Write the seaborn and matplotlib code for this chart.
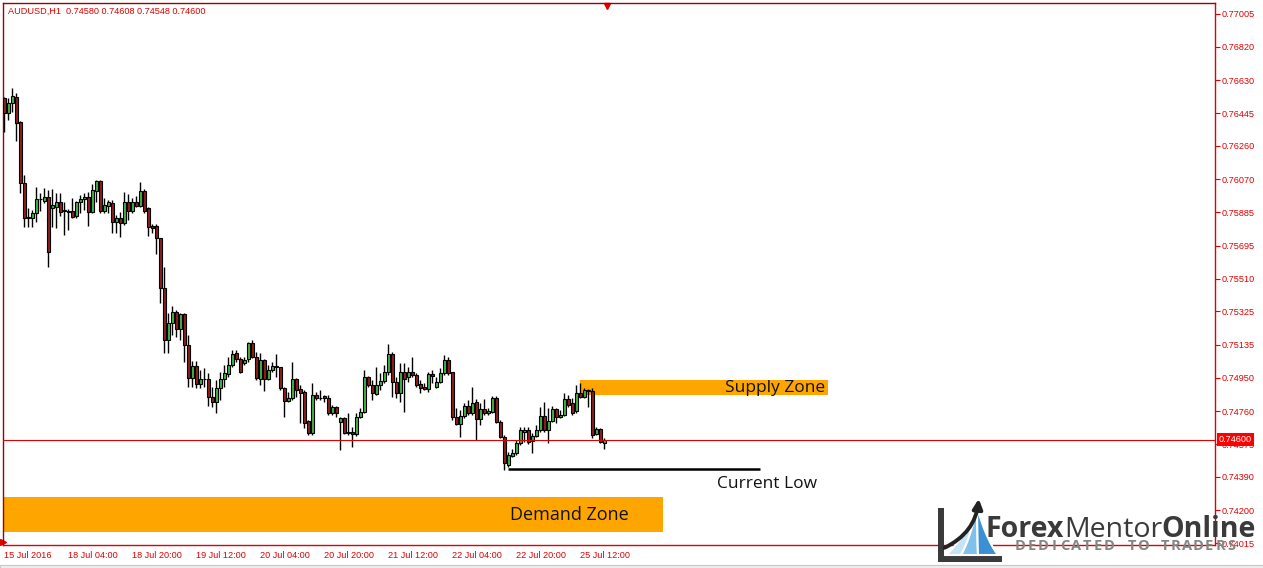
import numpy as np
import pandas as pd
import seaborn as sns
import matplotlib
matplotlib.use("Agg")
from matplotlib import pyplot as plt
from matplotlib import patches, transforms

# candle data, AUDUSD H1 -->
open_ = [0.76530, 0.76445, 0.76502, 0.76536, 0.76394, 0.76050, 0.75852, 0.75852, 0.75880, 0.75960,
         0.75948, 0.75971, 0.75909, 0.75914, 0.75943, 0.75892, 0.75892, 0.75892, 0.75863, 0.75943,
         0.75960, 0.75971, 0.75886, 0.76004, 0.76061, 0.75892, 0.75920, 0.75937, 0.75830, 0.75852,
         0.75824, 0.75943, 0.75892, 0.75943, 0.75920, 0.76004, 0.75909, 0.75807, 0.75807, 0.75739,
         0.75456, 0.75163, 0.75259, 0.75321, 0.75225, 0.75310, 0.75134, 0.74948, 0.75016, 0.74914,
         0.74942, 0.74942, 0.74841, 0.74813, 0.74891, 0.74942, 0.74971, 0.75021, 0.75089, 0.75055,
         0.75033, 0.75055, 0.75146, 0.75067, 0.74942, 0.75050, 0.74942, 0.74993, 0.75010, 0.75010,
         0.74891, 0.74818, 0.74835, 0.74942, 0.74886, 0.74869, 0.74705, 0.74638, 0.74852, 0.74835,
         0.74846, 0.74835, 0.74750, 0.74784, 0.74700, 0.74722, 0.74643, 0.74643, 0.74632, 0.74728,
         0.74756, 0.74954, 0.74908, 0.74858, 0.74908, 0.74931, 0.74982, 0.75084, 0.74925, 0.74863,
         0.74982, 0.74954, 0.74982, 0.74965, 0.74914, 0.74897, 0.74886, 0.74971, 0.74897, 0.74925,
         0.74976, 0.75050, 0.74982, 0.74728, 0.74688, 0.74733, 0.74790, 0.74750, 0.74813, 0.74716,
         0.74773, 0.74750, 0.74756, 0.74835, 0.74700, 0.74615, 0.74456, 0.74507, 0.74524, 0.74581,
         0.74643, 0.74654, 0.74592, 0.74620, 0.74654, 0.74733, 0.74654, 0.74705, 0.74773, 0.74728,
         0.74739, 0.74830, 0.74807, 0.74762, 0.74863, 0.74841, 0.74874, 0.74874, 0.74632, 0.74660,
         0.74580]
high = [0.76536, 0.76530, 0.76586, 0.76558, 0.76400, 0.76095, 0.75909, 0.75897, 0.76027, 0.75993,
        0.76021, 0.76010, 0.76016, 0.75993, 0.75993, 0.75943, 0.75903, 0.75965, 0.75948, 0.75982,
        0.75993, 0.75999, 0.76044, 0.76067, 0.76067, 0.75965, 0.75954, 0.75954, 0.75869, 0.75886,
        0.75999, 0.75988, 0.75965, 0.75976, 0.76055, 0.76016, 0.75912, 0.75818, 0.75818, 0.75742,
        0.75575, 0.75315, 0.75355, 0.75332, 0.75315, 0.75315, 0.75191, 0.75044, 0.75044, 0.74993,
        0.75004, 0.74976, 0.74897, 0.74937, 0.74982, 0.75021, 0.75067, 0.75106, 0.75106, 0.75067,
        0.75067, 0.75151, 0.75163, 0.75095, 0.75089, 0.75055, 0.75021, 0.75039, 0.75084, 0.75013,
        0.74897, 0.74869, 0.75039, 0.74948, 0.74908, 0.74880, 0.74711, 0.74920, 0.74869, 0.74880,
        0.74852, 0.74852, 0.74796, 0.74790, 0.74728, 0.74728, 0.74750, 0.74671, 0.74750, 0.74779,
        0.74993, 0.74959, 0.74937, 0.75010, 0.74976, 0.75021, 0.75140, 0.75095, 0.74954, 0.75033,
        0.75033, 0.75010, 0.75067, 0.74976, 0.74937, 0.74920, 0.74982, 0.74993, 0.74954, 0.75004,
        0.75078, 0.75067, 0.74985, 0.74779, 0.74767, 0.74807, 0.74824, 0.74897, 0.74830, 0.74807,
        0.74830, 0.74779, 0.74846, 0.74846, 0.74711, 0.74626, 0.74530, 0.74547, 0.74598, 0.74671,
        0.74671, 0.74671, 0.74638, 0.74683, 0.74784, 0.74813, 0.74779, 0.74790, 0.74779, 0.74767,
        0.74863, 0.74852, 0.74835, 0.74908, 0.74920, 0.74891, 0.74886, 0.74891, 0.74671, 0.74666,
        0.74608]
low = [0.76338, 0.76406, 0.76451, 0.76287, 0.75993, 0.75801, 0.75801, 0.75801, 0.75830, 0.75892,
       0.75937, 0.75575, 0.75801, 0.75796, 0.75863, 0.75756, 0.75784, 0.75855, 0.75855, 0.75880,
       0.75897, 0.75807, 0.75880, 0.75943, 0.75880, 0.75880, 0.75880, 0.75767, 0.75767, 0.75745,
       0.75813, 0.75841, 0.75880, 0.75914, 0.75914, 0.75880, 0.75750, 0.75767, 0.75648, 0.75372,
       0.75089, 0.75089, 0.75191, 0.75180, 0.75163, 0.75039, 0.74897, 0.74897, 0.74891, 0.74891,
       0.74897, 0.74790, 0.74784, 0.74750, 0.74824, 0.74897, 0.74954, 0.75010, 0.75039, 0.74976,
       0.75021, 0.75039, 0.75061, 0.74937, 0.74908, 0.74874, 0.74937, 0.74982, 0.74954, 0.74880,
       0.74728, 0.74813, 0.74824, 0.74841, 0.74694, 0.74666, 0.74626, 0.74626, 0.74824, 0.74824,
       0.74813, 0.74739, 0.74739, 0.74728, 0.74541, 0.74632, 0.74626, 0.74558, 0.74620, 0.74722,
       0.74750, 0.74897, 0.74824, 0.74852, 0.74880, 0.74920, 0.74965, 0.74841, 0.74835, 0.74813,
       0.74756, 0.74925, 0.74954, 0.74897, 0.74863, 0.74880, 0.74869, 0.74920, 0.74891, 0.74920,
       0.74965, 0.74965, 0.74711, 0.74683, 0.74615, 0.74722, 0.74739, 0.74739, 0.74598, 0.74683,
       0.74739, 0.74739, 0.74750, 0.74694, 0.74609, 0.74428, 0.74445, 0.74502, 0.74513, 0.74570,
       0.74587, 0.74575, 0.74524, 0.74615, 0.74643, 0.74643, 0.74581, 0.74700, 0.74694, 0.74722,
       0.74733, 0.74784, 0.74739, 0.74750, 0.74835, 0.74835, 0.74784, 0.74609, 0.74626, 0.74581,
       0.74548]
close = [0.76445, 0.76502, 0.76541, 0.76389, 0.76050, 0.75852, 0.75858, 0.75880, 0.75960, 0.75957,
         0.75971, 0.75660, 0.75926, 0.75943, 0.75886, 0.75895, 0.75889, 0.75858, 0.75943, 0.75960,
         0.75971, 0.75886, 0.76010, 0.76061, 0.75892, 0.75926, 0.75943, 0.75830, 0.75852, 0.75824,
         0.75943, 0.75892, 0.75943, 0.75920, 0.76004, 0.75892, 0.75801, 0.75796, 0.75739, 0.75456,
         0.75163, 0.75259, 0.75321, 0.75225, 0.75310, 0.75134, 0.74948, 0.75016, 0.74914, 0.74942,
         0.74940, 0.74841, 0.74813, 0.74891, 0.74942, 0.74976, 0.75021, 0.75084, 0.75055, 0.74982,
         0.75050, 0.75146, 0.75067, 0.74948, 0.75050, 0.74942, 0.74993, 0.75016, 0.75016, 0.74891,
         0.74818, 0.74835, 0.74942, 0.74880, 0.74863, 0.74694, 0.74638, 0.74852, 0.74835, 0.74838,
         0.74835, 0.74750, 0.74784, 0.74750, 0.74722, 0.74638, 0.74638, 0.74632, 0.74728, 0.74756,
         0.74954, 0.74908, 0.74863, 0.74908, 0.74931, 0.74982, 0.75084, 0.74925, 0.74863, 0.74982,
         0.74942, 0.74982, 0.74965, 0.74908, 0.74891, 0.74886, 0.74971, 0.74959, 0.74925, 0.74976,
         0.75050, 0.74976, 0.74728, 0.74688, 0.74733, 0.74790, 0.74750, 0.74807, 0.74716, 0.74773,
         0.74750, 0.74762, 0.74835, 0.74700, 0.74615, 0.74468, 0.74513, 0.74524, 0.74581, 0.74654,
         0.74654, 0.74587, 0.74620, 0.74654, 0.74733, 0.74654, 0.74705, 0.74773, 0.74728, 0.74739,
         0.74830, 0.74796, 0.74750, 0.74863, 0.74841, 0.74880, 0.74880, 0.74626, 0.74660, 0.74587,
         0.74600]

price_ticks = [0.77005, 0.76820, 0.76630, 0.76445, 0.76260, 0.76070, 0.75885, 0.75695, 0.75510,
               0.75325, 0.75135, 0.74950, 0.74760, 0.74575, 0.74390, 0.74200, 0.74015]
time_labels = ["15 Jul 2016", "18 Jul 04:00", "18 Jul 20:00", "19 Jul 12:00", "20 Jul 04:00",
               "20 Jul 20:00", "21 Jul 12:00", "22 Jul 04:00", "22 Jul 20:00", "25 Jul 12:00"]
time_label_bars = [0, 16, 32, 48, 64, 80, 96, 112, 128, 144]

# drawn objects (price levels, bar ranges) -->
supply_zone = [0.74852, 0.74937]
supply_bars = [144, 206]
demand_zone = [0.74078, 0.74276]
demand_bars = [-1, 164.7]
current_low = 0.74434
current_low_bars = [126, 189]
last_price = 0.74600

df = pd.DataFrame({"open": open_, "high": high, "low": low, "close": close})
df["bar"] = np.arange(len(df))
df["up"] = df["close"] > df["open"]

sns.set_style("white")
plt.rcParams["font.family"] = ["Liberation Sans", "DejaVu Sans"]

RED = "#e00000"
W, H = 1263, 568
fig = plt.figure(figsize=(W / 100, H / 100), dpi=100)
ax = fig.add_axes([3 / W, 23 / H, 1212 / W, 542 / H])
ax.set_xlim(-0.325, 302.675)
ax.set_ylim(0.74005, 0.77067)

# zones -->
ax.fill_between(supply_bars, supply_zone[0], supply_zone[1], color="#FFA500", lw=0, zorder=1)
ax.fill_between(demand_bars, demand_zone[0], demand_zone[1], color="#FFA500", lw=0, zorder=1)
ax.hlines(current_low, current_low_bars[0], current_low_bars[1], color="black", lw=1.8, zorder=2)

# candles -->
ax.vlines(df["bar"], df["low"], df["high"], color="black", lw=1, zorder=3)
body_lo = df[["open", "close"]].min(axis=1)
body_h = (df["close"] - df["open"]).abs().clip(lower=1e-7)
colors = np.where(df["up"], "#43b14b", "#8f1e1e")
ax.bar(df["bar"], body_h, bottom=body_lo, width=0.72, color=colors,
       edgecolor="black", lw=0.8, zorder=4)

ax.axhline(last_price, color=RED, lw=0.8, zorder=5)

# labels on chart -->
ax.text(180.2, np.mean(supply_zone), "Supply Zone", fontsize=12.5, family="Open Sans",
        va="center", ha="left", color="#111111", zorder=6)
ax.text(178.2, current_low - 0.00085, "Current Low", fontsize=12.5, family="Open Sans",
        va="center", ha="left", color="#111111", zorder=6)
ax.text(141.3, np.mean(demand_zone), "Demand Zone", fontsize=13, family="Open Sans",
        va="center", ha="center", color="#111111", zorder=6)
ax.text(0.004, 0.993, "AUDUSD,H1  %.5f %.5f %.5f %.5f" % (open_[-1], high[-1], low[-1], close[-1]),
        transform=ax.transAxes, va="top", ha="left", fontsize=6.6, color=RED)

# axes -->
ax.yaxis.tick_right()
ax.set_yticks(price_ticks, labels=["%.5f" % p for p in price_ticks])
ax.set_xticks(time_label_bars, labels=time_labels)
for t in ax.get_xticklabels():
    t.set_horizontalalignment("left")
ax.tick_params(axis="y", direction="out", length=3.5, width=0.8, color=RED,
               labelcolor=RED, labelsize=6.6, pad=1.5)
ax.tick_params(axis="x", direction="out", length=3.5, width=0.8, color=RED,
               labelcolor=RED, labelsize=6.6, pad=1)
for side in ["left", "top"]:
    ax.spines[side].set_color("#a00000")
    ax.spines[side].set_linewidth(1)
for side in ["right", "bottom"]:
    ax.spines[side].set_color(RED)
    ax.spines[side].set_linewidth(1)

# price box on the axis -->
ytrans = transforms.blended_transform_factory(ax.transAxes, ax.transData)
ax.text(1 + 4 / 1212, last_price, "%.5f" % last_price, transform=ytrans, ha="left", va="center",
        fontsize=6.6, color="white", zorder=10, clip_on=False,
        bbox=dict(boxstyle="square,pad=0.25", fc="#ff0000", ec="none"))

# shift markers -->
xtrans = transforms.blended_transform_factory(ax.transData, ax.transAxes)
ax.plot([len(df) - 0.3], [0.995], marker="v", ms=5, color=RED, transform=xtrans, clip_on=False)
ax.plot([0], [0.006], marker=">", ms=4, color=RED, transform=ax.transAxes, clip_on=False)

# window frame -->
fig.patches.append(patches.Rectangle((0, 0), 1, 3 / H, transform=fig.transFigure,
                                     fc="#f0f0f0", ec="#c8c8c8", lw=0.8))

# logo -->
lax = fig.add_axes([930 / W, 0, 333 / W, 78 / H])
lax.set_xlim(930, 1263)
lax.set_ylim(568, 490)
lax.axis("off")
lax.patch.set_alpha(0)
grey = "#3a3a3a"
lax.add_patch(patches.Rectangle((938, 508), 6, 54, color=grey, lw=0))
lax.add_patch(patches.Rectangle((938, 556), 64, 6, color=grey, lw=0))
t = np.linspace(0, 1, 40)
top = np.array([977, 507])
bottoms = [946, 961, 978, 998]
blues = ["#c4e4f7", "#7fc1eb", "#3a90d2"]
for k in range(3):
    pts = []
    for xb, rev in [(bottoms[k], False), (bottoms[k + 1], True)]:
        p0 = np.array([xb, 555])
        p1 = np.array([xb + (top[0] - xb) * 0.55, 540])
        curve = ((1 - t) ** 2)[:, None] * p0 + (2 * (1 - t) * t)[:, None] * p1 + (t ** 2)[:, None] * top
        pts.append(curve[::-1] if rev else curve)
    poly = np.vstack(pts)
    lax.add_patch(patches.Polygon(poly, closed=True, fc=blues[k], ec="white", lw=1.5))
lax.add_patch(patches.FancyArrowPatch((942, 549), (979, 496), connectionstyle="arc3,rad=0.3",
                                      arrowstyle="-|>", mutation_scale=14, lw=2.8, color="#222222"))

# word chain: each word starts where the last one ends
fig.canvas.draw()
renderer = fig.canvas.get_renderer()
x0 = 986
for word, weight in [("Forex", "bold"), ("Mentor", "normal"), ("Online", "bold")]:
    txt = lax.text(x0, 537, word, fontsize=20.5, fontweight=weight, family="Open Sans",
                   color=grey, va="baseline", ha="left")
    bb = txt.get_window_extent(renderer).transformed(lax.transData.inverted())
    x0 = max(bb.x0, bb.x1) - 0.5
for i, ch in enumerate("DEDICATED TO TRADERS"):
    lax.text(1020.5 + i * 11.1, 550, ch, fontsize=10.5, fontweight="bold", family="Open Sans",
             color="#858585", ha="center", va="baseline")

fig.savefig("out.png", dpi=100)
